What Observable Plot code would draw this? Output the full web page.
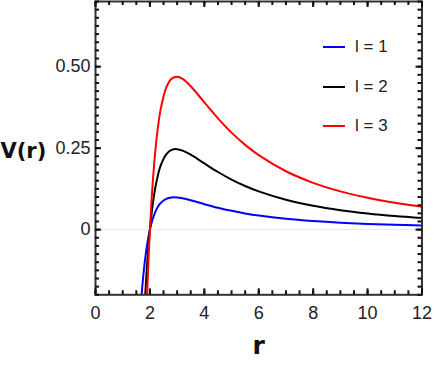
<!DOCTYPE html>
<html><head><meta charset="utf-8">
<script src="https://cdn.jsdelivr.net/npm/d3@7"></script>
<script src="https://cdn.jsdelivr.net/npm/@observablehq/plot@0.6"></script>
<style>
body{margin:0;background:#fff;}
#wrap{position:relative;width:434px;height:372px;font-family:"Liberation Sans",Arial,sans-serif;}
.item{position:absolute;left:323px;height:20px;display:flex;align-items:center;font-size:17px;color:#222;}
.sw{width:22px;height:2px;margin-right:10px;}
</style>
</head><body>
<div id="wrap"></div>
<script>
// radial coordinate samples
const r  = [1.6, 1.7, 1.75, 1.8, 1.85, 1.9, 1.95, 2.0, 2.05, 2.1, 2.2, 2.3, 2.4, 2.6, 2.8, 3.0, 3.2, 3.5, 4.0, 4.5, 5.0, 5.5, 6.0, 7.0, 8.0, 9.0, 10.0, 11.0, 12.0];
// potential for l = 1, 2, 3
const v1 = [-0.317, -0.194, -0.147, -0.107, -0.073, -0.0445, -0.0204, 0, 0.0173, 0.0319, 0.0546, 0.0708, 0.0820, 0.0945, 0.0989, 0.0988, 0.0961, 0.0900, 0.0781, 0.0671, 0.0576, 0.0497, 0.0432, 0.0333, 0.0264, 0.0213, 0.0176, 0.0148, 0.0125];
const v2 = [-0.708, -0.438, -0.333, -0.244, -0.168, -0.1028, -0.0474, 0, 0.0405, 0.0751, 0.1298, 0.1694, 0.1977, 0.2311, 0.2447, 0.2469, 0.2426, 0.2299, 0.2031, 0.1768, 0.1536, 0.1339, 0.1173, 0.0916, 0.0732, 0.0597, 0.0496, 0.0418, 0.0357];
const v3 = [-1.294, -0.805, -0.613, -0.450, -0.310, -0.1903, -0.0878, 0, 0.0753, 0.1399, 0.2425, 0.3173, 0.3713, 0.4359, 0.4633, 0.4691, 0.4623, 0.4398, 0.3906, 0.3414, 0.2976, 0.2601, 0.2284, 0.1791, 0.1436, 0.1174, 0.0976, 0.0824, 0.0704];
const labels = ["l = 1", "l = 2", "l = 3"];
const colors = ["#0000ff", "#000000", "#ff0000"];
const xTicks = [0, 2, 4, 6, 8, 10, 12];
const xMinor = d3.range(0, 12.01, 0.5);
const yTicks = [0, 0.25, 0.5];
const yMinor = d3.range(-0.2, 0.701, 0.025);

const series = [v1, v2, v3].map((v, i) => r.map((x, j) => ({r: x, v: v[j], l: labels[i]})));

const W = 434, H = 372, ML = 95, MR = 12.5, MT = 1, MB = 77.7;
const PW = W - ML - MR, PH = H - MT - MB;
const tickCol = "#111";
const mn = 4, mj = 6;

const chart = Plot.plot({
  width: W, height: H,
  marginLeft: ML, marginRight: MR, marginTop: MT, marginBottom: MB,
  x: {domain: [0, 12]},
  y: {domain: [-0.2, 0.7]},
  style: {fontFamily: "'Liberation Sans', Arial, sans-serif", fontSize: "18px", color: "#222", background: "white", overflow: "visible"},
  marks: [
    Plot.ruleY([0], {stroke: "#e8e8e8", strokeWidth: 1}),
    ...series.map((s, i) => Plot.line(s, {x: "r", y: "v", stroke: colors[i], strokeWidth: 2, curve: "catmull-rom", clip: true})),
    Plot.frame({stroke: "#333", strokeWidth: 2}),
    // minor/major ticks, inward, on all four sides
    Plot.tickX(xMinor, {x: d => d, insetTop: PH - mn, stroke: tickCol, strokeWidth: 2}),
    Plot.tickX(xMinor, {x: d => d, insetBottom: PH - mn, stroke: tickCol, strokeWidth: 2}),
    Plot.tickX(xTicks, {x: d => d, insetTop: PH - mj, stroke: tickCol, strokeWidth: 2}),
    Plot.tickX(xTicks, {x: d => d, insetBottom: PH - mj, stroke: tickCol, strokeWidth: 2}),
    Plot.tickY(yMinor, {y: d => d, insetRight: PW - mn, stroke: tickCol, strokeWidth: 2}),
    Plot.tickY(yMinor, {y: d => d, insetLeft: PW - mn, stroke: tickCol, strokeWidth: 2}),
    Plot.tickY(yTicks, {y: d => d, insetRight: PW - mj, stroke: tickCol, strokeWidth: 2}),
    Plot.tickY(yTicks, {y: d => d, insetLeft: PW - mj, stroke: tickCol, strokeWidth: 2}),
    Plot.axisX(xTicks, {anchor: "bottom", tickSize: 0, tickPadding: 11, label: null, fontSize: 18}),
    Plot.axisY(yTicks, {anchor: "left", tickSize: 0, tickPadding: 5, label: null, fontSize: 18,
      tickFormat: d => d === 0 ? "0" : d.toFixed(2)}),
    Plot.text(["V(r)"], {text: d => d, frameAnchor: "left", dx: -95, dy: 3, textAnchor: "start",
      fontWeight: "bold", fontSize: 21, fontFamily: "DejaVu Sans", fill: "#111"}),
    Plot.text(["r"], {text: d => d, frameAnchor: "bottom", dy: 59,
      fontWeight: "bold", fontSize: 25, fontFamily: "DejaVu Sans", fill: "#111"})
  ]
});
const wrap = document.getElementById("wrap");
wrap.appendChild(chart);
const legendY = [46.7, 86.5, 126.3];
labels.forEach((t, i) => {
  const d = document.createElement("div");
  d.className = "item";
  d.style.top = (legendY[i] - 10) + "px";
  d.innerHTML = `<span class="sw" style="background:${colors[i]}"></span><span>${t}</span>`;
  wrap.appendChild(d);
});
</script>
</body></html>
